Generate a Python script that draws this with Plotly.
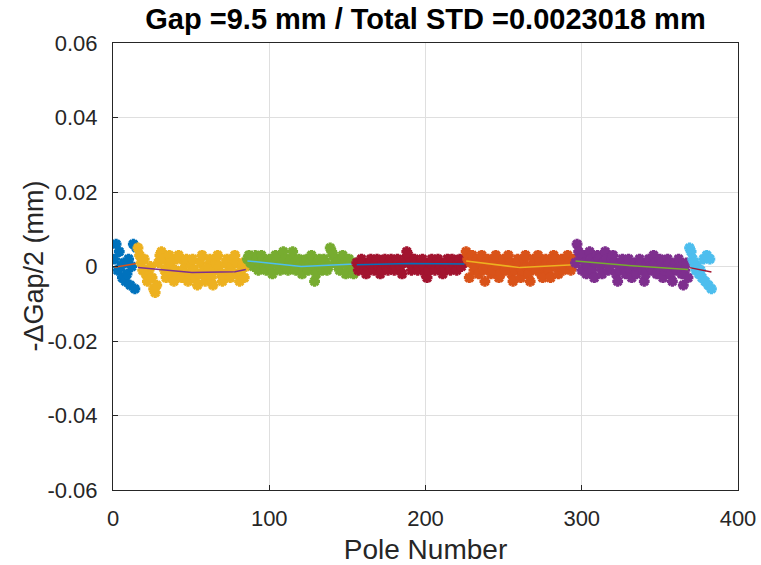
import plotly.graph_objects as go

# --- data ---
seg_blue = [0.002, 0.006, -0.001, 0.004, 0.000, -0.003, 0.001, -0.004, -0.002, 0.002, -0.005, 0.000, 0.006, -0.006, 0.005]
seg_yellow = [0.005, 0.003, 0.001, -0.001, 0.002, -0.002, -0.004, -0.001, 0.000, -0.003,
              -0.006, -0.007, -0.005, 0.001, 0.003, 0.004, 0.002, -0.001, -0.003, 0.000,
              0.003, 0.001, -0.002, -0.004, -0.001, 0.002, 0.003, -0.002, -0.003, -0.001,
              0.001, 0.002, -0.004, -0.002, 0.000, 0.002, -0.001, -0.003, -0.005, -0.002,
              0.001, 0.003, -0.001, -0.004, -0.002, 0.000, 0.002, -0.003, -0.005, -0.001,
              0.001, 0.003, 0.000, -0.002, -0.004, -0.003, 0.001, 0.002, -0.001, -0.003,
              0.000, 0.002, 0.003, 0.001, -0.002, -0.004, -0.001, 0.001, -0.003, 0.000]
seg_green = [0.002, 0.003, 0.001, 0.002, 0.000, 0.003, 0.002, -0.001, 0.001, 0.003,
             0.002, 0.000, -0.001, 0.001, 0.002, 0.000, -0.002, 0.001, 0.003, 0.002,
             0.000, -0.001, 0.001, 0.004, 0.002, 0.000, -0.001, 0.001, 0.002, 0.004,
             0.001, -0.001, 0.000, 0.002, 0.001, -0.002, 0.000, 0.001, 0.002, -0.001,
             0.001, 0.003, 0.000, -0.004, -0.002, 0.001, 0.002, 0.000, -0.001, 0.002,
             0.001, -0.001, 0.000, 0.005, 0.004, 0.003, 0.002, 0.001, 0.000, -0.001,
             0.002, 0.003, 0.001, -0.002, 0.000, 0.002, 0.001, -0.001, -0.002, 0.001]
seg_red = [0.001, -0.001, 0.000, 0.002, 0.001, -0.001, -0.002, 0.000, 0.001, 0.002,
           0.000, -0.001, 0.001, 0.002, 0.000, -0.002, -0.001, 0.001, 0.002, 0.000,
           -0.001, 0.001, 0.002, 0.001, -0.001, 0.000, 0.002, 0.001, 0.000, -0.002,
           0.001, 0.002, 0.004, 0.003, 0.001, -0.001, 0.000, 0.002, 0.001, -0.001,
           0.000, 0.001, 0.002, 0.000, -0.002, -0.003, -0.001, 0.001, 0.002, 0.000,
           -0.001, 0.001, 0.002, 0.001, 0.000, -0.002, -0.001, 0.001, 0.002, 0.000,
           -0.001, 0.002, 0.001, 0.000, -0.001, 0.001, 0.002, 0.000, 0.001, 0.002]
seg_orange = [0.004, 0.002, -0.003, 0.001, 0.003, -0.001, 0.000, 0.002, -0.002, 0.001,
              0.003, -0.001, -0.004, 0.000, 0.002, 0.001, -0.002, -0.001, 0.002, 0.003,
              0.000, -0.003, -0.002, 0.001, 0.002, -0.001, 0.000, 0.003, 0.001, -0.002,
              -0.004, -0.001, 0.001, 0.002, 0.000, -0.003, -0.001, 0.002, 0.003, 0.000,
              -0.002, -0.004, 0.000, 0.002, 0.001, -0.001, 0.003, 0.001, -0.002, -0.003,
              0.000, 0.002, 0.001, -0.001, -0.003, 0.001, 0.003, 0.002, 0.000, -0.002,
              0.001, 0.002, -0.001, 0.000, 0.002, 0.003, 0.001, -0.001, 0.000, 0.002]
seg_purple = [0.001, 0.006, 0.004, 0.002, -0.001, 0.003, 0.001, -0.002, 0.000, 0.004,
              0.002, -0.001, -0.003, 0.001, 0.003, 0.002, 0.000, -0.002, 0.001, 0.004,
              0.002, -0.001, 0.000, 0.002, 0.003, 0.001, -0.002, -0.004, -0.001, 0.001,
              0.002, 0.000, -0.002, 0.001, 0.002, -0.001, -0.003, 0.000, 0.001, -0.002,
              0.000, 0.002, 0.001, -0.001, -0.004, -0.002, 0.001, 0.002, 0.000, -0.001,
              0.003, 0.001, -0.002, 0.000, 0.002, 0.001, -0.003, -0.001, 0.000, 0.002,
              0.001, -0.002, -0.004, 0.000, 0.001, -0.001, 0.002, 0.000, -0.002, -0.005,
              -0.001, 0.001, -0.003]
seg_cyan = [0.005, 0.004, 0.002, 0.001, -0.001, 0.000, -0.002, -0.001, -0.003, 0.002,
            -0.004, 0.003, -0.005, 0.002, -0.006]

seg_values = [seg_blue, seg_yellow, seg_green, seg_red, seg_orange, seg_purple, seg_cyan]
point_colors = ["#0072BD", "#EDB120", "#77AC30", "#A2142F", "#D95319", "#7E2F8E", "#4DBEEE"]
line_colors = ["#D95319", "#7E2F8E", "#4DBEEE", "#0072BD", "#EDB120", "#77AC30", "#A2142F"]

# fit-line knots per segment (relative position in segment: 0 = first pole, 1 = last pole)
fit_pos = [[0, 1], [0, 0.35, 0.5, 0.9, 1], [0, 0.15, 0.5, 0.85, 1], [0, 0.5, 1],
           [0, 0.5, 1], [0, 0.5, 1], [0, 1]]
fit_vals = [[-0.0002, 0.0008], [-0.0003, -0.0012, -0.0016, -0.0014, -0.0008],
            [0.0015, 0.0011, 0.0000, 0.0005, 0.0007], [0.0005, 0.0008, 0.0007],
            [0.0015, -0.0003, 0.0005], [0.0015, 0.0002, -0.0008], [-0.0003, -0.0015]]

x_ticks = [0, 100, 200, 300, 400]
y_ticks = [-0.06, -0.04, -0.02, 0, 0.02, 0.04, 0.06]
y_ticktext = ["-0.06", "-0.04", "-0.02", "0", "0.02", "0.04", "0.06"]

fig = go.Figure()
start = 1
for vals, pc, lc, fp, fv in zip(seg_values, point_colors, line_colors, fit_pos, fit_vals):
    xs = list(range(start, start + len(vals)))
    fig.add_trace(go.Scatter(x=xs, y=vals, mode="markers",
                             marker=dict(symbol="asterisk-open", size=9, color=pc,
                                         line=dict(width=3.2, color=pc)),
                             showlegend=False))
    end = start + len(vals) - 1
    lx = [start + p * (end - start) for p in fp]
    fig.add_trace(go.Scatter(x=lx, y=fv, mode="lines", line=dict(color=lc, width=1.5),
                             showlegend=False))
    start = end + 1

font = "Liberation Sans, Arial, Helvetica, sans-serif"
fig.update_layout(
    width=761, height=565,
    margin=dict(l=113, r=23, t=43, b=75, autoexpand=False),
    paper_bgcolor="white", plot_bgcolor="white",
    font=dict(family=font, color="#262626", size=22),
    title=dict(text="<b>Gap =9.5 mm / Total STD =0.0023018 mm</b>", x=0.5, xanchor="center",
               xref="paper", y=0.966, yanchor="middle", font=dict(size=29, color="black")),
    annotations=[dict(text="-\u0394Gap/2 (mm)", textangle=-90, xref="paper", yref="paper",
                      x=-0.128, y=0.5, xanchor="center", yanchor="middle", showarrow=False,
                      font=dict(size=27, color="#262626"))],
)
fig.update_xaxes(range=[0, 400], tickvals=x_ticks, ticks="inside", ticklen=5,
                 tickcolor="#262626", showline=True, linecolor="#262626", linewidth=1,
                 mirror=True, showgrid=True, gridcolor="#DFDFDF", zeroline=False,
                 ticklabelstandoff=9, automargin=False,
                 title=dict(text="Pole Number", font=dict(size=28), standoff=12))
fig.update_yaxes(range=[-0.06, 0.06], tickvals=y_ticks, ticktext=y_ticktext, ticks="inside",
                 ticklen=5, tickcolor="#262626", showline=True, linecolor="#262626",
                 linewidth=1, mirror=True, showgrid=True, gridcolor="#DFDFDF", zeroline=False,
                 ticklabelstandoff=10, automargin=False)

fig.write_html("out.html")
